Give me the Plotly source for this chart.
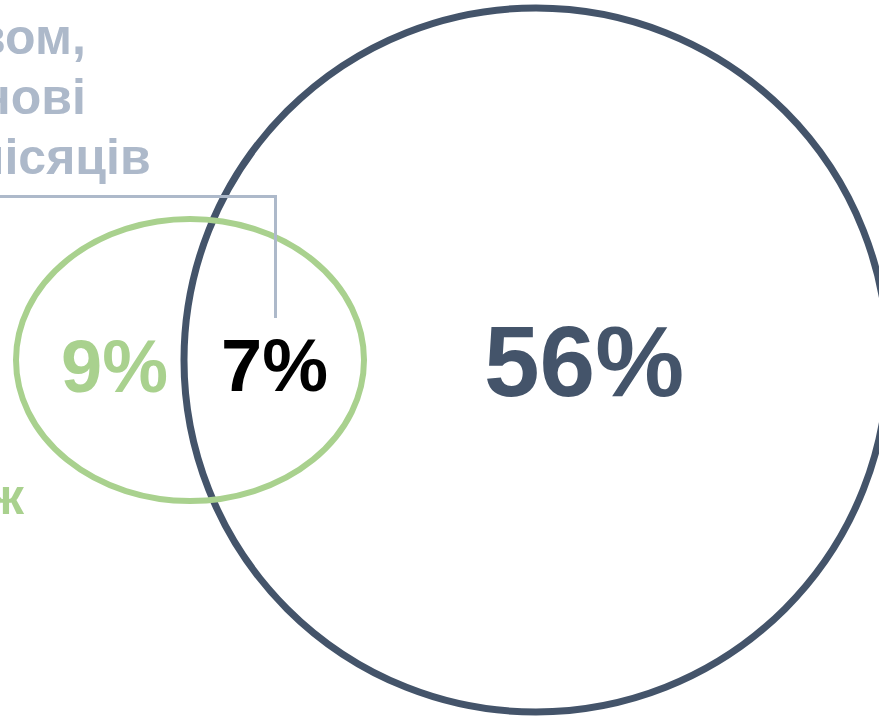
import plotly.graph_objects as go

# Data
segment_names = ["Лише зелена група", "Обидві групи", "Лише синя група"]
segment_values = [9, 7, 56]
segment_colors = ["#a9d18e", "#000000", "#44546a"]

label_lines_blue = ["посередництвом,", "на основі", "останніх 12 місяців"]
label_lines_green = ["платіж"]

W, H = 879, 717
FONT = "Liberation Sans, Arial, sans-serif"
BLUE_GRAY = "#adb9ca"

fig = go.Figure()

# Invisible trace to establish axes
fig.add_trace(go.Scatter(x=[0, W], y=[0, H], mode="markers",
                         marker=dict(opacity=0), hoverinfo="skip", showlegend=False))

shapes = []
# Big circle (dark)
shapes.append(dict(type="circle", xref="x", yref="y",
                   x0=536 - 352, x1=536 + 352, y0=360 - 352, y1=360 + 352,
                   line=dict(color="#44546a", width=7), fillcolor="rgba(0,0,0,0)"))
# Green ellipse
shapes.append(dict(type="circle", xref="x", yref="y",
                   x0=190 - 174, x1=190 + 174, y0=360 - 141, y1=360 + 141,
                   line=dict(color="#a9d18e", width=6), fillcolor="rgba(0,0,0,0)"))
# Connector
shapes.append(dict(type="path", xref="x", yref="y",
                   path="M -5 196.5 L 275.5 196.5 L 275.5 318",
                   line=dict(color=BLUE_GRAY, width=3)))

annotations = []
pct_pos = [(114, 366, 74), (274, 365, 74), (584, 361, 100)]
for v, c, (px, py, fs) in zip(segment_values, segment_colors, pct_pos):
    annotations.append(dict(x=px, y=py, xref="x", yref="y", text=f"<b>{v}%</b>",
                            showarrow=False, xanchor="center", yanchor="middle",
                            font=dict(family=FONT, size=fs, color=c)))

blue_pos = [(88, 37), (88, 97), (153, 157)]
for t, (px, py) in zip(label_lines_blue, blue_pos):
    annotations.append(dict(x=px, y=py, xref="x", yref="y", text=f"<b>{t}</b>",
                            showarrow=False, xanchor="right", yanchor="middle",
                            font=dict(family=FONT, size=50, color=BLUE_GRAY)))
for t in label_lines_green:
    annotations.append(dict(x=26, y=497, xref="x", yref="y", text=f"<b>{t}</b>",
                            showarrow=False, xanchor="right", yanchor="middle",
                            font=dict(family=FONT, size=50, color="#a9d18e")))

fig.update_layout(
    width=W, height=H, autosize=False,
    margin=dict(l=0, r=0, t=0, b=0),
    paper_bgcolor="white", plot_bgcolor="white",
    xaxis=dict(range=[0, W], visible=False, fixedrange=True),
    yaxis=dict(range=[H, 0], visible=False, fixedrange=True),
    shapes=shapes, annotations=annotations, showlegend=False,
)

fig.write_html("out.html", config={"displayModeBar": False},
               post_script="document.body.style.margin='0';document.body.style.overflow='hidden';")
